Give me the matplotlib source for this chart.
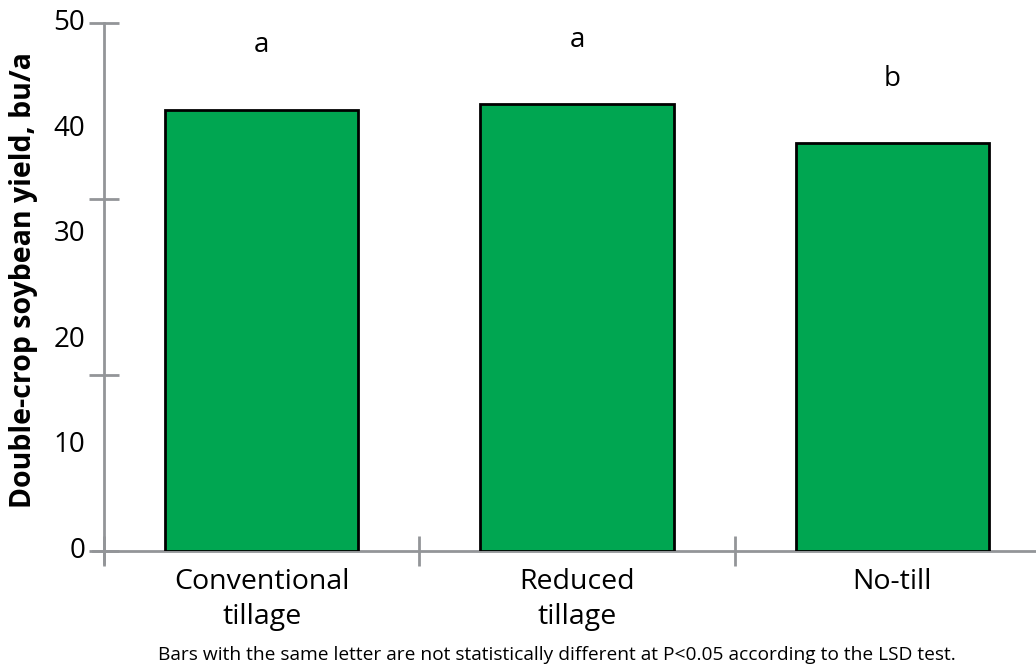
import matplotlib
matplotlib.use("Agg")
import matplotlib.pyplot as plt

# data
categories = ["Conventional\ntillage", "Reduced\ntillage", "No-till"]
yields = [41.8, 42.3, 38.6]
letters = ["a", "a", "b"]
ytick_labels = [0, 10, 20, 30, 40, 50]
note = "Bars with the same letter are not statistically different at P<0.05 according to the LSD test."

plt.rcParams['font.family'] = ['Open Sans', 'DejaVu Sans']
axis_grey = "#939598"
green = "#00A651"

W, H = 1036, 667
fig = plt.figure(figsize=(W / 100, H / 100), dpi=100)
left, right, top, bottom = 104, 1050, 23, 551
ax = fig.add_axes([left / W, 1 - bottom / H, (right - left) / W, (bottom - top) / H])
ax.set_xlim(0, 3)
ax.set_ylim(0, 50)

xs = [i + 0.5 for i in range(len(categories))]
ax.bar(xs, yields, width=0.613, color=green, edgecolor="black", linewidth=2, zorder=3)
for x, v, l in zip(xs, yields, letters):
    ax.text(x, v + 6.1, l, ha="center", va="center", fontsize=20)

for s in ["top", "right"]:
    ax.spines[s].set_visible(False)
for s in ["left", "bottom"]:
    ax.spines[s].set_color(axis_grey)
    ax.spines[s].set_linewidth(2)
    ax.spines[s].set_clip_on(False)
ax.spines["left"].set_bounds(-1.1, 50)
ax.spines["bottom"].set_bounds(-0.035, 3)

# tick marks cross the axes; labels placed separately
ax.set_yticks([0, 50 / 3, 100 / 3, 50])
ax.set_yticklabels([])
ax.set_xticks([0, 1, 2])
ax.set_xticklabels([])
ax.tick_params(axis="y", direction="inout", length=22, width=2, color=axis_grey)
ax.tick_params(axis="x", direction="inout", length=22, width=2, color=axis_grey)

for v in ytick_labels:
    ax.text(-0.06, v, str(v), ha="right", va="center", fontsize=20)
for x, c in zip(xs, categories):
    ax.text(x, -1.6, c, ha="center", va="top", fontsize=20.5, linespacing=1.32)

ax.set_ylabel("Double-crop soybean yield, bu/a", fontsize=20.5, fontweight="bold")
ax.yaxis.set_label_coords(-0.07, 0.513)
fig.text(0.538, 1 - 660 / H, note, ha="center", va="baseline", fontsize=13.8)

fig.savefig("out.png", dpi=100)
